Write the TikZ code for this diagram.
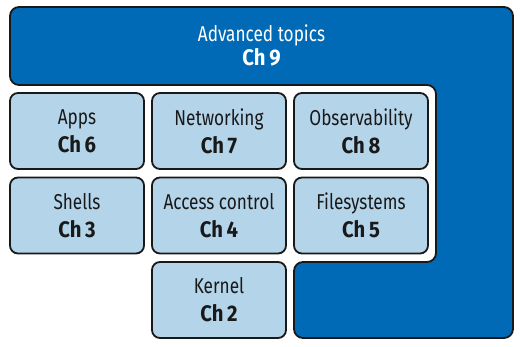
\documentclass[tikz,border=0pt]{standalone}
\usepackage{fontspec}
\setmainfont{Fira Sans}[FakeStretch=0.8, BoldFeatures={FakeStretch=0.9}]

\definecolor{topicblue}{RGB}{0,106,182}
\definecolor{chapblue}{RGB}{180,212,234}
\definecolor{edge}{RGB}{25,25,25}

\newcommand{\chapnum}[1]{{\fontsize{22.5}{28}\selectfont\bfseries Ch\,#1}}

\tikzset{
  chapter/.style={draw=edge, line width=1.8pt, fill=chapblue, rounded corners=8pt,
    minimum width=134pt, minimum height=76pt, align=center, text=edge,
    font=\fontsize{21.5}{28}\selectfont},
}

\begin{document}
\begin{tikzpicture}[x=1pt, y=-1pt]
  \useasboundingbox (0,0) rectangle (521,347);

  % Advanced topics wraps around the chapters
  \draw[edge, line width=1.8pt, fill=topicblue, rounded corners=9pt]
    (10,7) -- (513,7) -- (513,338) -- (294,338) -- (294,262)
    -- (436,262) -- (436,85) -- (10,85) -- cycle;
  \node[text=white, align=center, font=\fontsize{21.5}{24}\selectfont] (adv) at (261.5,45)
    {Advanced topics\\\chapnum{9}};

  % Chapters
  \node[chapter] (apps)   at (77,131)  {Apps\\\chapnum{6}};
  \node[chapter] (net)    at (219,131) {Networking\\\chapnum{7}};
  \node[chapter] (obs)    at (361,131) {Observability\\\chapnum{8}};
  \node[chapter] (shells) at (77,215.5)  {Shells\\\chapnum{3}};
  \node[chapter] (access) at (219,215.5) {Access control\\\chapnum{4}};
  \node[chapter] (fs)     at (361,215.5) {Filesystems\\\chapnum{5}};
  \node[chapter] (kernel) at (219,300) {Kernel\\\chapnum{2}};
\end{tikzpicture}
\end{document}
